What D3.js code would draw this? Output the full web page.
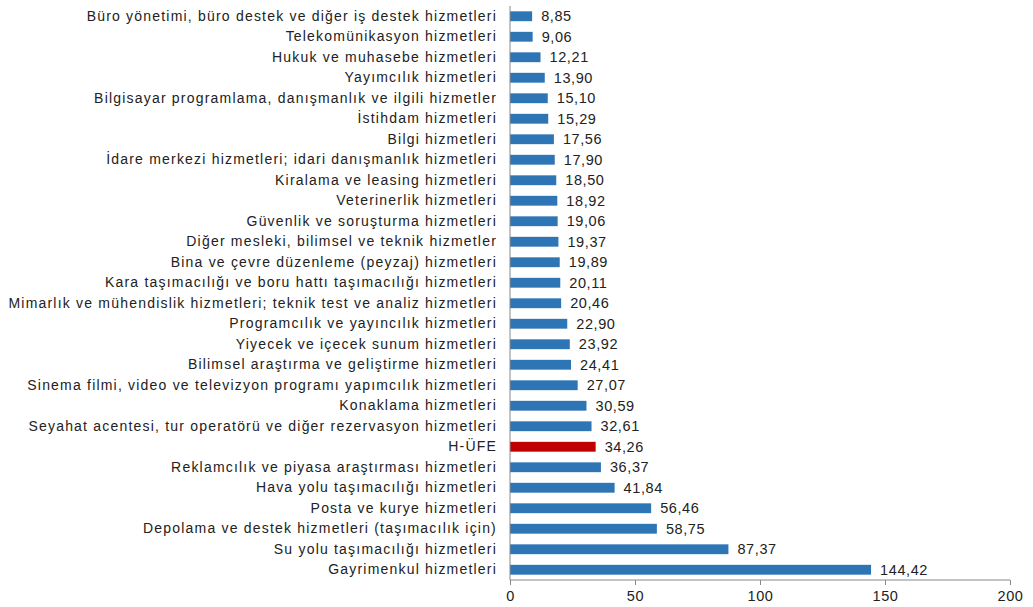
<!DOCTYPE html>
<html>
<head>
<meta charset="utf-8">
<script src="https://cdn.jsdelivr.net/npm/d3@7"></script>
<style>
    body { margin: 0; background: #fff; }
    text { font-family: "Liberation Sans", Arial, sans-serif; fill: #222; }
</style>
</head>
<body>
<svg id="chart" width="1033" height="607"></svg>
<script>
// categories, top to bottom
const categories = [
    "Büro yönetimi, büro destek ve diğer iş destek hizmetleri",
    "Telekomünikasyon hizmetleri",
    "Hukuk ve muhasebe hizmetleri",
    "Yayımcılık hizmetleri",
    "Bilgisayar programlama, danışmanlık ve ilgili hizmetler",
    "İstihdam hizmetleri",
    "Bilgi hizmetleri",
    "İdare merkezi hizmetleri; idari danışmanlık hizmetleri",
    "Kiralama ve leasing hizmetleri",
    "Veterinerlik hizmetleri",
    "Güvenlik ve soruşturma hizmetleri",
    "Diğer mesleki, bilimsel ve teknik hizmetler",
    "Bina ve çevre düzenleme (peyzaj) hizmetleri",
    "Kara taşımacılığı ve boru hattı taşımacılığı hizmetleri",
    "Mimarlık ve mühendislik hizmetleri; teknik test ve analiz hizmetleri",
    "Programcılık ve yayıncılık hizmetleri",
    "Yiyecek ve içecek sunum hizmetleri",
    "Bilimsel araştırma ve geliştirme hizmetleri",
    "Sinema filmi, video ve televizyon programı yapımcılık hizmetleri",
    "Konaklama hizmetleri",
    "Seyahat acentesi, tur operatörü ve diğer rezervasyon hizmetleri",
    "H-ÜFE",
    "Reklamcılık ve piyasa araştırması hizmetleri",
    "Hava yolu taşımacılığı hizmetleri",
    "Posta ve kurye hizmetleri",
    "Depolama ve destek hizmetleri (taşımacılık için)",
    "Su yolu taşımacılığı hizmetleri",
    "Gayrimenkul hizmetleri"
];

// annual change values
const values = [
    8.85, 9.06, 12.21, 13.90, 15.10, 15.29, 17.56, 17.90, 18.50, 18.92,
    19.06, 19.37, 19.89, 20.11, 20.46, 22.90, 23.92, 24.41, 27.07, 30.59,
    32.61, 34.26, 36.37, 41.84, 56.46, 58.75, 87.37, 144.42
];

const xTicks = [0, 50, 100, 150, 200];
const highlight = "H-ÜFE";

const plotLeft = 510;
const plotRight = 1010;
const plotTop = 6;
const plotBottom = 580;
const fontFamily = "'Liberation Sans', Arial, sans-serif";

const svg = d3.select("#chart");

const x = d3.scaleLinear().domain([0, 200]).range([plotLeft, plotRight]);
const y = d3.scaleBand().domain(categories).range([plotTop, plotBottom]).paddingInner(0.52).paddingOuter(0.26);

const fmt = v => v.toFixed(2).replace(".", ",");

// bars
svg.append("g")
    .selectAll("rect")
    .data(categories)
    .join("rect")
    .attr("x", x(0))
    .attr("y", d => y(d))
    .attr("width", (d, i) => x(values[i]) - x(0))
    .attr("height", y.bandwidth())
    .attr("fill", d => d === highlight ? "#c00000" : "#2e75b6");

// value labels
svg.append("g")
    .selectAll("text")
    .data(categories)
    .join("text")
    .attr("x", (d, i) => x(values[i]) + 9)
    .attr("y", d => y(d) + y.bandwidth() / 2)
    .attr("dy", "0.36em")
    .attr("font-size", 14.5)
    .attr("letter-spacing", 0.6)
    .text((d, i) => fmt(values[i]));

// category axis
const yAxis = svg.append("g")
    .attr("transform", `translate(${plotLeft},0)`)
    .call(d3.axisLeft(y).tickSize(0).tickPadding(13));
yAxis.select(".domain").attr("stroke", "#888").attr("d", `M0,${plotTop}V${plotBottom}`);
yAxis.selectAll("text")
    .attr("font-size", 14)
    .attr("letter-spacing", 1.2)
    .style("font-family", fontFamily)
    .attr("fill", "#222");

// value axis
const xAxis = svg.append("g")
    .attr("transform", `translate(0,${plotBottom})`)
    .call(d3.axisBottom(x).tickValues(xTicks).tickSize(5).tickPadding(6));
xAxis.select(".domain").attr("stroke", "#888").attr("d", `M${plotLeft},0H${plotRight}`);
xAxis.selectAll(".tick line").attr("stroke", "#888");
xAxis.selectAll("text")
    .attr("font-size", 14.5)
    .attr("letter-spacing", 0.6)
    .style("font-family", fontFamily)
    .attr("fill", "#222");
</script>
</body>
</html>
